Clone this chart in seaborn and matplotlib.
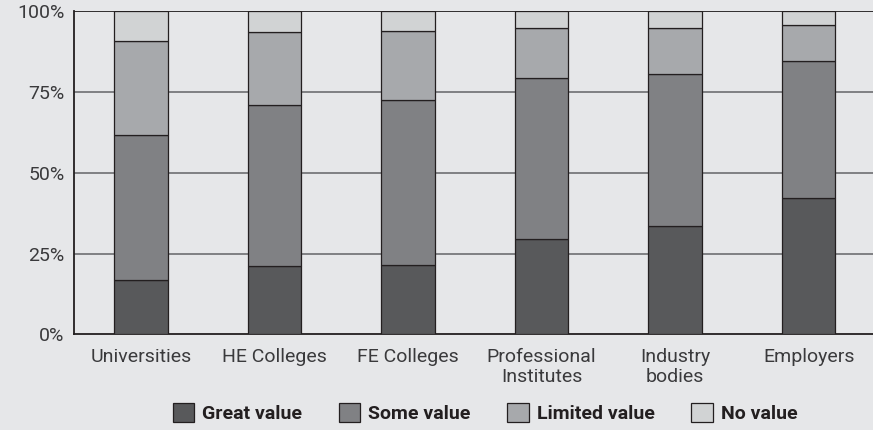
import matplotlib
matplotlib.use("Agg")
import matplotlib.pyplot as plt
import seaborn as sns
import numpy as np
import pandas as pd
from matplotlib.patches import Patch

categories = ["Universities", "HE Colleges", "FE Colleges",
              "Professional\nInstitutes", "Industry\nbodies", "Employers"]
series_names = ["Great value", "Some value", "Limited value", "No value"]
great_value = [16.7, 21.1, 21.6, 29.5, 33.6, 42.3]
some_value = [44.9, 50.0, 50.8, 50.0, 47.1, 42.4]
limited_value = [29.2, 22.6, 21.4, 15.3, 14.1, 11.2]
no_value = [9.2, 6.3, 6.2, 5.2, 5.2, 4.1]
tick_values = [0, 25, 50, 75, 100]
tick_labels = ["0%", "25%", "50%", "75%", "100%"]

colors = ["#58595b", "#808184", "#a7a9ac", "#d1d3d4"]
bg = "#e6e7e9"
txt = "#231f20"

sns.set_theme(style="white")
plt.rcParams["font.family"] = ["Roboto", "DejaVu Sans"]

fig = plt.figure(figsize=(8.73, 4.30), dpi=100, facecolor=bg)
ax = fig.add_axes([74.3 / 873, 1 - 334.3 / 430, 1 - 74.3 / 873, (334.3 - 11.3) / 430])
ax.set_facecolor(bg)

series = [great_value, some_value, limited_value, no_value]
df = pd.DataFrame({"category": categories})
bottom = np.zeros(len(categories))
for name, vals, col in zip(series_names, series, colors):
    df["v"] = vals
    sns.barplot(data=df, x="category", y="v", order=categories, color=col,
                bottom=bottom, width=0.4, edgecolor=txt, linewidth=0.9,
                ax=ax, zorder=3, saturation=1)
    bottom = bottom + np.array(vals)

ax.set_xlim(-0.498, 5.481)
ax.set_ylim(0, 100)
ax.set_yticks(tick_values)
ax.set_yticklabels(tick_labels)
ax.set_xlabel("")
ax.set_ylabel("")
for y in tick_values[1:-1]:
    ax.axhline(y, color="#6d6e71", lw=1.2, zorder=1)
ax.axhline(100, color=txt, lw=1.3, zorder=1)

for s in ["right", "top"]:
    ax.spines[s].set_visible(False)
for s in ["left", "bottom"]:
    ax.spines[s].set_color(txt)
    ax.spines[s].set_linewidth(1.3)

ax.tick_params(axis="y", length=0, pad=7, labelsize=14, labelcolor="#3a3a3c")
ax.tick_params(axis="x", length=0, pad=10, labelsize=14, labelcolor="#3a3a3c")
for lab in ax.get_xticklabels():
    lab.set_linespacing(1.1)

handles = [Patch(facecolor=c, edgecolor=txt, linewidth=0.9, label=n)
           for n, c in zip(series_names, colors)]
leg = fig.legend(handles=handles, loc="center", bbox_to_anchor=(485 / 873, 1 - 413 / 430),
                 ncol=4, frameon=False, prop={"weight": "bold", "size": 14},
                 handlelength=1.1, handleheight=1.1, handletextpad=0.4,
                 columnspacing=1.9, borderaxespad=0, borderpad=0)
for t in leg.get_texts():
    t.set_color(txt)

fig.savefig("out.png", dpi=100, facecolor=bg)
